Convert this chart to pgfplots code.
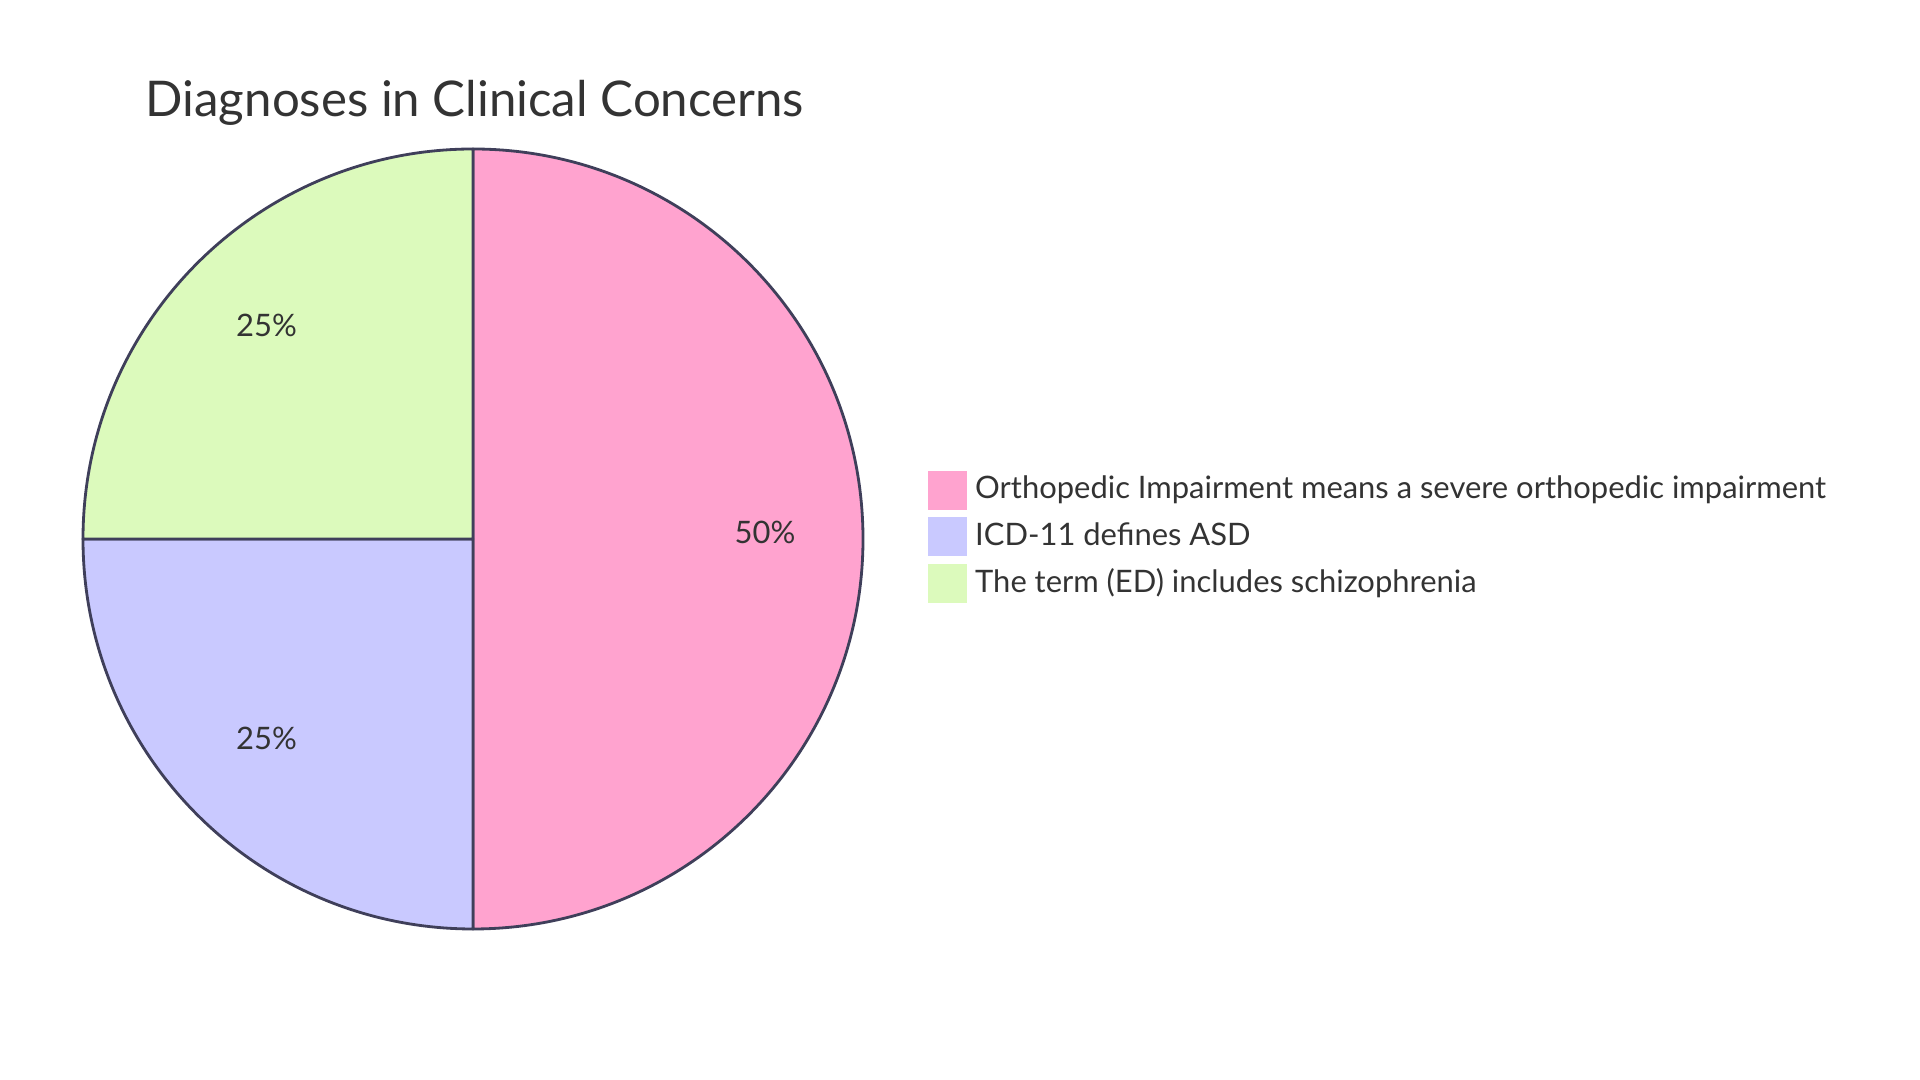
\documentclass[border=0pt]{standalone}
\usepackage{pgfplots}
\pgfplotsset{compat=1.18}
\usepackage{pgfplotstable}
\usepackage{fontspec}
\setmainfont{Lato}

\definecolor{pieA}{HTML}{FFA3CF}
\definecolor{pieB}{HTML}{C9C9FF}
\definecolor{pieC}{HTML}{DCFABC}
\definecolor{pieline}{HTML}{3F3F5A}
\definecolor{txt}{HTML}{333333}

% slice values (percent)
\pgfplotstableread[col sep=comma]{
slice,value
A,50
B,25
C,25
}\piedata

\pgfplotstablegetelem{0}{value}\of\piedata \let\vA\pgfplotsretval
\pgfplotstablegetelem{1}{value}\of\piedata \let\vB\pgfplotsretval
\pgfplotstablegetelem{2}{value}\of\piedata \let\vC\pgfplotsretval
% start at 12 o'clock, go clockwise
\pgfmathsetmacro\tot{\vA+\vB+\vC}
\pgfmathsetmacro\aA{90}
\pgfmathsetmacro\aB{\aA-360*(\vA/\tot)}
\pgfmathsetmacro\aC{\aB-360*(\vB/\tot)}
\pgfmathsetmacro\aD{\aC-360*(\vC/\tot)}
\pgfmathsetmacro\mA{(\aA+\aB)/2}
\pgfmathsetmacro\mB{(\aB+\aC)/2}
\pgfmathsetmacro\mC{(\aC+\aD)/2}

\begin{document}
\begin{tikzpicture}
\begin{axis}[
    width=19.2cm, height=10.8cm, scale only axis,
    xmin=0, xmax=1920, ymin=0, ymax=1080,
    hide axis, clip=false,
    legend style={at={(axis cs:927,610)}, anchor=north west,
        draw=none, fill=none, inner sep=0pt, row sep=0.075cm,
        nodes={inner sep=0pt, text=txt, font=\fontsize{8.8}{10}\selectfont},
        /tikz/every odd column/.append style={column sep=0.085cm}},
    legend cell align=left,
    legend image code/.code={\fill[#1, draw=none] (0cm,-0.195cm) rectangle (0.39cm,0.195cm);},
]
\path (axis cs:0,0) rectangle (axis cs:1920,1080);
\addlegendimage{fill=pieA}
\addlegendentry{Orthopedic Impairment means a severe orthopedic impairment}
\addlegendimage{fill=pieB}
\addlegendentry{ICD-11 defines ASD}
\addlegendimage{fill=pieC}
\addlegendentry{The term (ED) includes schizophrenia}

\filldraw[fill=pieA, draw=pieline, line width=0.8pt, line join=round]
  (axis cs:473,541) -- ++(\aA:3.9cm) arc[start angle=\aA, end angle=\aB, radius=3.9cm] -- cycle;
\filldraw[fill=pieB, draw=pieline, line width=0.8pt, line join=round]
  (axis cs:473,541) -- ++(\aB:3.9cm) arc[start angle=\aB, end angle=\aC, radius=3.9cm] -- cycle;
\filldraw[fill=pieC, draw=pieline, line width=0.8pt, line join=round]
  (axis cs:473,541) -- ++(\aC:3.9cm) arc[start angle=\aC, end angle=\aD, radius=3.9cm] -- cycle;

\node[text=txt, font=\fontsize{8.8}{10}\selectfont] at ([shift={(\mA:2.92cm)}]axis cs:473,548) {\vA\%};
\node[text=txt, font=\fontsize{8.8}{10}\selectfont] at ([shift={(\mB:2.92cm)}]axis cs:473,548) {\vB\%};
\node[text=txt, font=\fontsize{8.8}{10}\selectfont] at ([shift={(\mC:2.92cm)}]axis cs:473,548) {\vC\%};

\node[anchor=west, inner sep=0pt, text=txt, font=\fontsize{14}{16}\selectfont] at (axis cs:145,977) {Diagnoses in Clinical Concerns};
\end{axis}
\end{tikzpicture}
\end{document}
